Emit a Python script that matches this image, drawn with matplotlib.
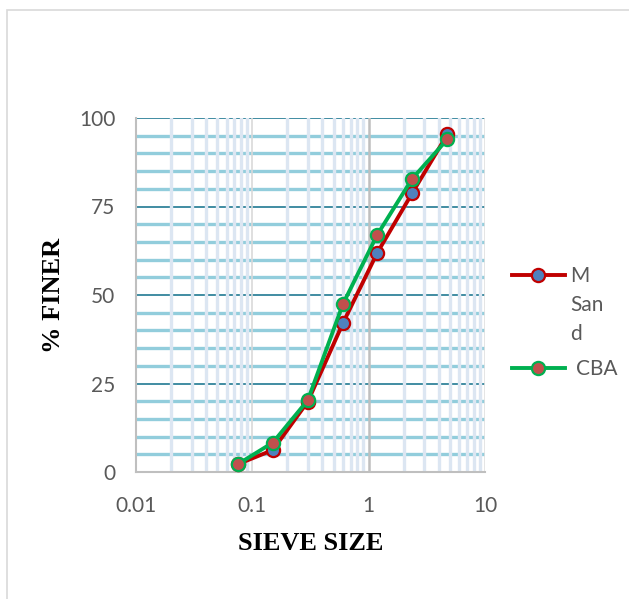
import matplotlib

matplotlib.use("Agg")
import matplotlib.pyplot as plt
from matplotlib.lines import Line2D
from matplotlib.patches import Rectangle
from matplotlib.ticker import FixedLocator, NullFormatter

# sieve analysis, % finer vs sieve size (mm)
sieve_size = [0.075, 0.15, 0.3, 0.6, 1.18, 2.36, 4.75]
msand_finer = [2.2, 6.2, 19.9, 42.0, 61.8, 78.7, 95.4]
cba_finer = [2.2, 8.3, 20.3, 47.4, 66.9, 82.8, 94.0]
series_labels = ["M\nSan\nd", "CBA"]
x_ticks = [0.01, 0.1, 1, 10]
x_tick_labels = ["0.01", "0.1", "1", "10"]
y_ticks = [0, 25, 50, 75, 100]
y_minor = [v for v in range(5, 100, 5) if v % 25]
x_minor = [m * d for d in (0.01, 0.1, 1) for m in range(2, 10)]

TICK_FONT = ["Lato", "DejaVu Sans"]
LABEL_FONT = ["Liberation Serif", "DejaVu Serif"]
GREY_TXT = "#595959"

fig = plt.figure(figsize=(6.29, 5.99), dpi=100)
fig.patches.append(Rectangle((7 / 629, -0.1), 1.0, 1 - 10 / 599 + 0.1, transform=fig.transFigure,
                             fill=False, edgecolor="#d9d9d9", linewidth=1.2))
ax = fig.add_axes([136 / 629, 1 - 472 / 599, 349 / 629, 354 / 599])
ax.set_xscale("log")
ax.set_xlim(0.01, 10)
ax.set_ylim(0, 100)

# grid: horizontal first, vertical light lines on top
for v in y_minor:
    ax.axhline(v, color="#92cddc", linewidth=2.4, zorder=0.5)
for v in y_ticks[1:]:
    ax.axhline(v, color="#31849b", linewidth=1.3, zorder=0.6)
for v in x_minor:
    ax.axvline(v, color="#dce6f2", linewidth=2.4, zorder=0.7)
ax.axvline(0.1, color="#d9d9d9", linewidth=1.2, zorder=0.8)
ax.axvline(1, color="#bfbfbf", linewidth=1.8, zorder=0.8)
ax.axvline(10, color="#e0e0e0", linewidth=1.2, zorder=0.8)

style = dict(linewidth=2.8, marker="o", markersize=9.5, markeredgewidth=1.6)
l1, = ax.plot(sieve_size, msand_finer, color="#c00000", markerfacecolor="#4f81bd",
              markeredgecolor="#c00000", zorder=3, **style)
l2, = ax.plot(sieve_size, cba_finer, color="#00b050", markerfacecolor="#c0504d",
              markeredgecolor="#00b050", zorder=4, **style)

for side in ("top", "right"):
    ax.spines[side].set_visible(False)
for side in ("left", "bottom"):
    ax.spines[side].set_color("#bfbfbf")
    ax.spines[side].set_linewidth(1.5)

ax.xaxis.set_major_locator(FixedLocator(x_ticks))
ax.xaxis.set_minor_locator(FixedLocator(x_minor))
ax.xaxis.set_minor_formatter(NullFormatter())
ax.set_xticklabels(x_tick_labels)
ax.set_yticks(y_ticks)
ax.tick_params(length=0, which="both", colors=GREY_TXT, labelsize=15)
ax.tick_params(axis="x", pad=17)
ax.tick_params(axis="y", pad=15)
for lab in ax.get_xticklabels() + ax.get_yticklabels():
    lab.set_family(TICK_FONT)

ax.set_xlabel("SIEVE SIZE", family=LABEL_FONT, fontweight="bold", fontsize=19, labelpad=12)
ax.set_ylabel("% FINER", family=LABEL_FONT, fontweight="bold", fontsize=19, labelpad=10)

# legend drawn by hand: handle sits on the first line of the wrapped label
for line, label, ly, tx in zip((l1, l2), series_labels, (0.556, 0.294), (1.244, 1.262)):
    h = Line2D([1.077, 1.229], [ly, ly], transform=ax.transAxes, clip_on=False,
               color=line.get_color(), linewidth=line.get_linewidth(), zorder=5)
    m = Line2D([1.153], [ly], transform=ax.transAxes, clip_on=False, marker="o",
               markersize=line.get_markersize(), markerfacecolor=line.get_markerfacecolor(),
               markeredgecolor=line.get_markeredgecolor(),
               markeredgewidth=line.get_markeredgewidth(), zorder=6)
    ax.add_line(h)
    ax.add_line(m)
    ax.text(tx, ly + 0.026, label, transform=ax.transAxes, va="top", ha="left",
            family=TICK_FONT, fontsize=15, color=GREY_TXT, linespacing=1.55)

fig.savefig("out.png", dpi=100)
